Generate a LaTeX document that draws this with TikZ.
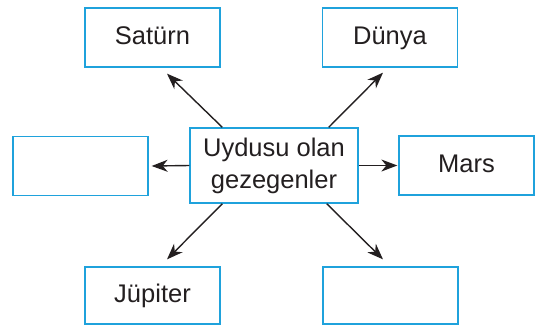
\documentclass[tikz,border=0pt]{standalone}
\usepackage{fontspec}
\setmainfont{Liberation Sans}
\usetikzlibrary{arrows.meta}
\definecolor{boxblue}{HTML}{1FA2DC}
\definecolor{ink}{HTML}{231F20}
\tikzset{
  planet/.style={draw=boxblue, line width=1.3pt, fill=white, minimum width=135pt, minimum height=59pt, inner sep=0pt, text=ink, text height=18pt, text depth=5pt, font=\fontsize{25.5}{30}\selectfont},
  hub/.style={draw=boxblue, line width=1.3pt, fill=white, minimum width=168pt, minimum height=75pt, inner sep=0pt, text=ink, align=center, font=\fontsize{25.5}{32}\selectfont},
  arr/.style={draw=ink, line width=1.4pt, -{Stealth[length=16pt,width=12pt,inset=5pt]}}
}
\begin{document}
\begin{tikzpicture}[x=1pt,y=-1pt]
\useasboundingbox (0,0) rectangle (535,325);
\node[planet] (sat) at (152.5,37.5) {Satürn};
\node[planet] (dun) at (390,37.5) {Dünya};
\node[planet] (lft) at (80.5,166) {};
\node[hub] (c) at (274,165.5) {Uydusu olan\\gezegenler};
\node[planet] (mars) at (466.5,165.5) {Mars};
\node[planet, minimum height=57pt] (jup) at (152.5,295.5) {Jüpiter};
\node[planet, minimum height=57pt] (br) at (390.5,295.5) {};
\draw[arr] ([xshift=33pt]c.north west) -- ([xshift=14.5pt,yshift=-6pt]sat.south);
\draw[arr] ([xshift=-30pt]c.north east) -- ([xshift=-7pt,yshift=-5pt]dun.south);
\draw[arr] (c.west) -- ([xshift=3pt]lft.east);
\draw[arr] (c.east) -- ([xshift=-1pt]mars.west);
\draw[arr] ([xshift=33pt]c.south west) -- ([xshift=14.5pt,yshift=7pt]jup.north);
\draw[arr] ([xshift=-32pt]c.south east) -- ([xshift=-7.5pt,yshift=7pt]br.north);
\end{tikzpicture}
\end{document}
